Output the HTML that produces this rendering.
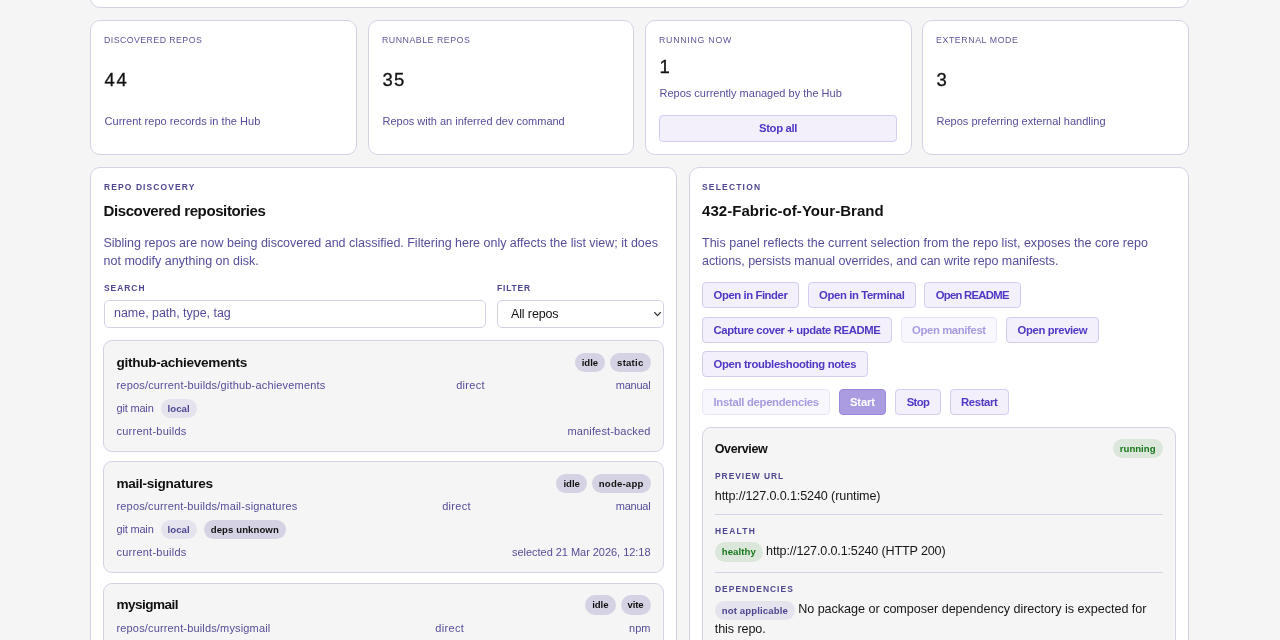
<!DOCTYPE html>
<html lang="en">
<head>
<meta charset="utf-8">
<title>Repo Hub</title>
<style>
*{box-sizing:border-box;margin:0;padding:0}
html,body{width:1280px;height:640px;overflow:hidden;background:#f5f5f5}
body{font-family:"Liberation Sans",Arial,sans-serif;color:#111;position:relative}
.card{position:absolute;background:#fff;border:1px solid #d4d3e5;border-radius:10px}
.topcard{left:90px;top:-40px;width:1099px;height:48px}
.stat{top:20px;height:135px}
.stat .lbl{position:absolute;left:12.9px;top:12.5px;font-size:10px;line-height:12px;color:#5c5599;text-transform:uppercase;white-space:nowrap}
.stat .num{-webkit-text-stroke:.3px #111;position:absolute;left:13.5px;top:48.25px;font-size:18.5px;line-height:22px;color:#111;white-space:nowrap}
.stat .sub{position:absolute;left:13.5px;top:93px;font-size:11px;line-height:14px;color:#554d99;white-space:nowrap}
.btn{display:inline-block;height:27px;line-height:25px;padding:0;border:1px solid #d3ccf3;border-radius:4px;background:#f3f0fc;color:#5237c4;font-weight:700;font-size:11.3px;white-space:nowrap;font-family:inherit;text-align:center}
.acts .btn{height:26px;line-height:24px}
.btn.dis{opacity:.5}
.btn.pri{background:#ab9be1;border-color:#9b88dc;color:#fff}
.panel{top:167px;height:520px}
.eyebrow{position:absolute;font-size:9.4px;line-height:12px;font-weight:700;color:#4d4690;text-transform:uppercase;white-space:nowrap}
h2{position:absolute;font-size:15px;line-height:20px;font-weight:700;color:#111;white-space:nowrap}
.lead{position:absolute;font-size:12.5px;line-height:17.75px;color:#554d99}
.lead span{display:block;white-space:nowrap}
.field{position:absolute;height:28px;border:1px solid #d4d3e5;border-radius:5px;background:#fff;font-size:12.5px;line-height:26px;white-space:nowrap}
.repo{position:absolute;left:12px;width:561px;height:112px;border:1px solid #d4d3e5;border-radius:9px;background:#f5f5f5}
.repo .row{position:absolute;left:12.5px;right:12.5px;display:flex;justify-content:space-between;align-items:center;font-size:11px;color:#554d99;white-space:nowrap}
.repo .r1{top:11.4px;height:20px}.repo .r2{top:37px;height:14px}.repo .r3{top:57.25px;height:20px;justify-content:flex-start;gap:7px}.repo .r4{top:83px;height:14px}
.repo h3{font-size:13.6px;font-weight:700;color:#111}
.pill{display:inline-block;height:19.5px;line-height:19.5px;padding:0 7px;border-radius:10px;background:#d5d3e3;color:#111;font-size:9.6px;font-weight:700;white-space:nowrap;vertical-align:middle}
.pill.soft{background:#e4e3ee;color:#4d4690}
.pill.ok{background:#dbe7db;color:#18761b}
.pills{display:flex;gap:5px}
.ov{position:absolute;left:12px;top:259px;width:474px;height:300px;border:1px solid #d4d3e5;border-radius:9px;background:#f5f5f5}
.ov h3{position:absolute;left:11.75px;top:12px;font-size:12.5px;line-height:18px;font-weight:700;white-space:nowrap}
.ov .val{position:absolute;left:11.75px;font-size:12.6px;line-height:19.75px;color:#161616;white-space:nowrap}
.ov .val .pill{margin-right:3.25px;position:relative;top:.8px}
.ov hr{position:absolute;left:11.75px;right:12px;border:0;border-top:1px solid #d4d3e5;height:0}
</style>
</head>
<body>
<div class="card topcard"></div>

<section class="card stat" style="left:90px;width:267px">
  <div class="lbl" style="letter-spacing:0.482px;transform:scale(0.88,0.89);transform-origin:0 100%">DISCOVERED REPOS</div>
  <div class="num" style="letter-spacing:1.672px">44</div>
  <div class="sub" style="letter-spacing:0.037px">Current repo records in the Hub</div>
</section>
<section class="card stat" style="left:368px;width:266px">
  <div class="lbl" style="letter-spacing:0.575px;transform:scale(0.88,0.89);transform-origin:0 100%">RUNNABLE REPOS</div>
  <div class="num" style="letter-spacing:1.172px">35</div>
  <div class="sub" style="letter-spacing:0.001px">Repos with an inferred dev command</div>
</section>
<section class="card stat" style="left:645px;width:267px">
  <div class="lbl" style="letter-spacing:0.822px;transform:scale(0.88,0.89);transform-origin:0 100%">RUNNING NOW</div>
  <div class="num" style="letter-spacing:0px;top:35px">1</div>
  <div class="sub" style="letter-spacing:0.001px;top:65px">Repos currently managed by the Hub</div>
  <button class="btn" style="position:absolute;left:13px;top:94px;width:238px"><span style="letter-spacing:-0.364px">Stop all</span></button>
</section>
<section class="card stat" style="left:922px;width:267px">
  <div class="lbl" style="letter-spacing:0.658px;transform:scale(0.88,0.89);transform-origin:0 100%">EXTERNAL MODE</div>
  <div class="num" style="letter-spacing:0px">3</div>
  <div class="sub" style="letter-spacing:0.007px">Repos preferring external handling</div>
</section>

<section class="card panel" style="left:90px;width:587px">
  <div class="eyebrow" style="letter-spacing:1.249px;left:12.5px;top:13px;transform:scale(0.9,1);transform-origin:0 100%">REPO DISCOVERY</div>
  <h2 style="letter-spacing:-0.393px;left:12.5px;top:32.75px">Discovered repositories</h2>
  <p class="lead" style="left:12.5px;top:66.9px"><span style="letter-spacing:-0.011px">Sibling repos are now being discovered and classified. Filtering here only affects the list view; it does</span><span style="letter-spacing:0.011px">not modify anything on disk.</span></p>
  <div class="eyebrow" style="letter-spacing:1.083px;left:12.5px;top:114.25px;transform:scale(0.9,1);transform-origin:0 100%">SEARCH</div>
  <div class="field" style="left:12.5px;top:132px;width:382.5px;padding-left:9.5px;color:#554d99;line-height:24.5px"><span style="letter-spacing:-0.034px">name, path, type, tag</span></div>
  <div class="eyebrow" style="letter-spacing:0.956px;left:406px;top:114.25px;transform:scale(0.9,1);transform-origin:0 100%">FILTER</div>
  <div class="field" style="left:406px;top:132px;width:166.75px;padding-left:13px;color:#111"><span style="letter-spacing:-0.129px">All repos</span>
    <svg width="9" height="6" viewBox="0 0 9 6" style="position:absolute;right:1.25px;top:9.5px"><path d="M1.3 1.1L4.5 4.6L7.7 1.1" fill="none" stroke="#333" stroke-width="1.35" stroke-linejoin="miter"/></svg>
  </div>
  <article class="repo" style="top:172px">
    <div class="row r1"><h3 style="letter-spacing:-0.29px">github-achievements</h3><div class="pills"><span class="pill" style="letter-spacing:-0.042px">idle</span><span class="pill" style="letter-spacing:0.228px">static</span></div></div>
    <div class="row r2"><span style="letter-spacing:0.179px">repos/current-builds/github-achievements</span><span style="letter-spacing:0.32px">direct</span><span style="letter-spacing:-0.216px">manual</span></div>
    <div class="row r3"><span style="letter-spacing:-0.181px">git main</span><span class="pill soft" style="letter-spacing:0.059px">local</span></div>
    <div class="row r4"><span style="letter-spacing:0.239px">current-builds</span><span style="letter-spacing:0.157px">manifest-backed</span></div>
  </article>
  <article class="repo" style="top:293px">
    <div class="row r1"><h3 style="letter-spacing:-0.284px">mail-signatures</h3><div class="pills"><span class="pill" style="letter-spacing:-0.042px">idle</span><span class="pill" style="letter-spacing:0.19px">node-app</span></div></div>
    <div class="row r2"><span style="letter-spacing:0.169px">repos/current-builds/mail-signatures</span><span style="letter-spacing:0.32px">direct</span><span style="letter-spacing:-0.216px">manual</span></div>
    <div class="row r3"><span style="letter-spacing:-0.181px">git main</span><span class="pill soft" style="letter-spacing:0.059px">local</span><span class="pill" style="letter-spacing:0.077px">deps unknown</span></div>
    <div class="row r4"><span style="letter-spacing:0.239px">current-builds</span><span style="letter-spacing:-0.036px">selected 21 Mar 2026, 12:18</span></div>
  </article>
  <article class="repo" style="top:414.5px">
    <div class="row r1"><h3 style="letter-spacing:-0.561px">mysigmail</h3><div class="pills"><span class="pill" style="letter-spacing:-0.042px">idle</span><span class="pill" style="letter-spacing:-0.144px">vite</span></div></div>
    <div class="row r2"><span style="letter-spacing:0.158px">repos/current-builds/mysigmail</span><span style="letter-spacing:0.32px">direct</span><span style="letter-spacing:0.001px">npm</span></div>
  </article>
</section>

<section class="card panel" style="left:689px;width:500px">
  <div class="eyebrow" style="letter-spacing:1.349px;left:12px;top:13px;transform:scale(0.9,1);transform-origin:0 100%">SELECTION</div>
  <h2 style="letter-spacing:0.051px;left:12px;top:32.75px">432-Fabric-of-Your-Brand</h2>
  <p class="lead" style="left:12px;top:66.9px"><span style="letter-spacing:0.015px">This panel reflects the current selection from the repo list, exposes the core repo</span><span style="letter-spacing:-0.044px">actions, persists manual overrides, and can write repo manifests.</span></p>
  <div class="acts">
    <button class="btn" style="position:absolute;left:12px;top:114px;width:97px"><span style="letter-spacing:-0.42px">Open in Finder</span></button>
    <button class="btn" style="position:absolute;left:117.5px;top:114px;width:108.5px"><span style="letter-spacing:-0.379px">Open in Terminal</span></button>
    <button class="btn" style="position:absolute;left:234px;top:114px;width:96.5px"><span style="letter-spacing:-0.721px">Open README</span></button>
    <button class="btn" style="position:absolute;left:12px;top:148.5px;width:190px"><span style="letter-spacing:-0.383px">Capture cover + update README</span></button>
    <button class="btn dis" style="position:absolute;left:210.5px;top:148.5px;width:96.75px"><span style="letter-spacing:-0.372px">Open manifest</span></button>
    <button class="btn" style="position:absolute;left:316px;top:148.5px;width:92.75px"><span style="letter-spacing:-0.371px">Open preview</span></button>
    <button class="btn" style="position:absolute;left:12px;top:183px;width:165.75px"><span style="letter-spacing:-0.33px">Open troubleshooting notes</span></button>
    <button class="btn dis" style="position:absolute;left:12px;top:220.5px;width:128.25px"><span style="letter-spacing:-0.296px">Install dependencies</span></button>
    <button class="btn pri" style="position:absolute;left:148.5px;top:220.5px;width:47.75px"><span style="letter-spacing:-0.184px">Start</span></button>
    <button class="btn" style="position:absolute;left:205px;top:220.5px;width:46px"><span style="letter-spacing:-0.616px">Stop</span></button>
    <button class="btn" style="position:absolute;left:259.5px;top:220.5px;width:59.5px"><span style="letter-spacing:-0.363px">Restart</span></button>
  </div>
  <div class="ov">
    <h3 style="letter-spacing:-0.37px">Overview</h3>
    <span class="pill ok" style="letter-spacing:-0.0px;position:absolute;right:12.5px;top:10.75px">running</span>
    <div class="eyebrow" style="letter-spacing:1.073px;left:11.75px;top:42px;transform:scale(0.9,1);transform-origin:0 100%">PREVIEW URL</div>
    <div class="val" style="top:58.6px"><span style="letter-spacing:-0.122px">http://127.0.0.1:5240 (runtime)</span></div>
    <hr style="top:86px">
    <div class="eyebrow" style="letter-spacing:1.369px;left:11.75px;top:97.2px;transform:scale(0.9,1);transform-origin:0 100%">HEALTH</div>
    <div class="val" style="top:113.7px"><span class="pill ok" style="letter-spacing:0.069px">healthy</span><span style="letter-spacing:-0.163px">http://127.0.0.1:5240 (HTTP 200)</span></div>
    <hr style="top:144px">
    <div class="eyebrow" style="letter-spacing:1.129px;left:11.75px;top:154.5px;transform:scale(0.9,1);transform-origin:0 100%">DEPENDENCIES</div>
    <div class="val" style="top:172px"><span class="pill soft" style="letter-spacing:0.115px">not applicable</span><span style="letter-spacing:-0.029px">No package or composer dependency directory is expected for</span><br><span style="letter-spacing:-0.089px">this repo.</span></div>
  </div>
</section>
</body>
</html>
